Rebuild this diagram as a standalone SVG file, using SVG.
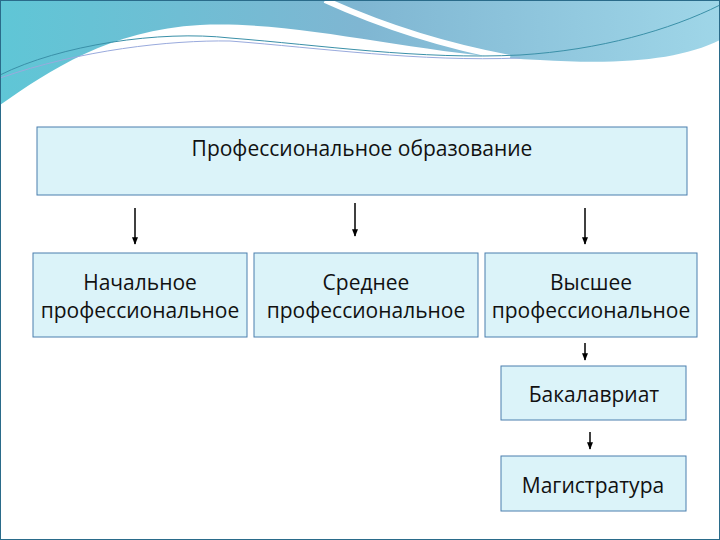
<svg xmlns="http://www.w3.org/2000/svg" width="720" height="540" viewBox="0 0 720 540">
<defs>
<linearGradient id="bg" x1="0" y1="0" x2="1" y2="0"><stop offset="0" stop-color="#5fc6d6"/><stop offset="0.5" stop-color="#7fb6d2"/><stop offset="1" stop-color="#9fd6e8"/></linearGradient>
<marker id="ah" viewBox="0 0 10 10" refX="9" refY="5" markerWidth="5" markerHeight="5" orient="auto"><path d="M0,1 L10,5 L0,9 z" fill="#000"/></marker>
<style>.box{fill:#dbf3f9;stroke:#4a7fae;stroke-width:1}.t{font-family:"Open Sans","DejaVu Sans",sans-serif;font-size:21px;fill:#111;text-anchor:middle}.c{stroke:#000;stroke-width:1.5;fill:none;marker-end:url(#ah)}</style>
</defs>
<rect width="720" height="540" fill="#fff"/>
<path d="M0,0 H720 V40 C680,60 620,65 540,60 C420,55 300,20 200,25 C110,30 50,70 0,105 Z" fill="url(#bg)"/>
<path d="M325,0 C380,25 440,45 510,58" stroke="#fff" stroke-width="6" fill="none"/>
<path d="M0,75 C60,45 160,30 230,38 C320,45 420,60 520,55 C600,50 670,30 720,5" stroke="#3a90a8" stroke-width="1" fill="none"/>
<path d="M0,78 C80,50 170,40 230,41 C320,48 420,62 520,58" stroke="#9ad" stroke-width="1" fill="none"/>
<rect x="0.5" y="0.5" width="719" height="539" fill="none" stroke="#2a6b8a"/>
<g id="connectors">
<path class="c" d="M135,208 V244"/>
<path class="c" d="M355,203 V236"/>
<path class="c" d="M585,208 V244"/>
<path class="c" d="M585,343 V360"/>
<path class="c" d="M590,432 V449"/>
</g>
<g id="root"><rect class="box" x="37" y="127" width="650" height="68"/><text class="t" x="362" y="156">Профессиональное образование</text></g>
<g id="n1"><rect class="box" x="33" y="253" width="214" height="84"/><text class="t" x="140" y="290">Начальное</text><text class="t" x="140" y="318">профессиональное</text></g>
<g id="n2"><rect class="box" x="254" y="253" width="224" height="84"/><text class="t" x="366" y="290">Среднее</text><text class="t" x="366" y="318">профессиональное</text></g>
<g id="n3"><rect class="box" x="485" y="253" width="212" height="84"/><text class="t" x="591" y="290">Высшее</text><text class="t" x="591" y="318">профессиональное</text></g>
<g id="n4"><rect class="box" x="501" y="366" width="185" height="54"/><text class="t" x="594" y="402">Бакалавриат</text></g>
<g id="n5"><rect class="box" x="501" y="456" width="185" height="55"/><text class="t" x="593" y="493">Магистратура</text></g>
</svg>
